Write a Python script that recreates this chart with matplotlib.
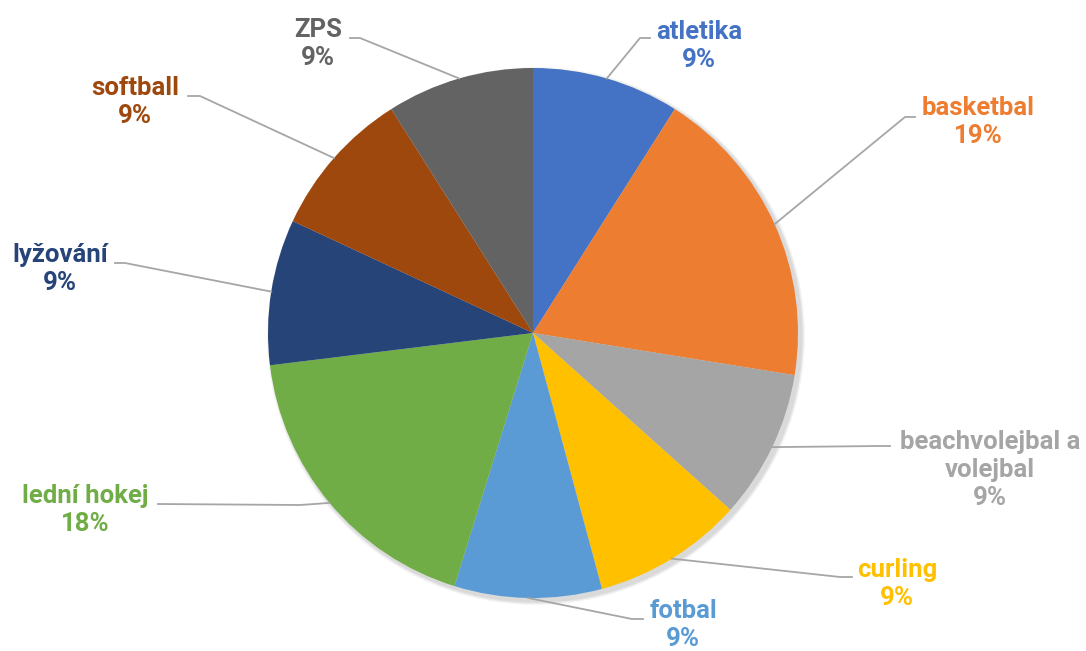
import numpy as np
import matplotlib
matplotlib.use('Agg')
import matplotlib.pyplot as plt
from matplotlib.patches import Circle

plt.rcParams['font.family'] = ['Roboto', 'DejaVu Sans']

# data (percent shares)
sports = ['atletika', 'basketbal', 'beachvolejbal a\nvolejbal', 'curling', 'fotbal',
          'lední hokej', 'lyžování', 'softball', 'ZPS']
shares = [9.0, 18.6, 9.1, 9.2, 9.0, 18.3, 8.9, 9.1, 9.0]
colors = ['#4472C4', '#ED7D31', '#A5A5A5', '#FFC000', '#5B9BD5',
          '#70AD47', '#264478', '#9E480E', '#636363']

# layout in pixels (from top-left): label centre, leader elbow, leader end
W, H = 1086, 651
cx, cy, r = 533, 333, 265
label_pos = [(699, 46), (978, 122), (990, 470), (897, 584), (683, 625),
             (85, 510), (60, 269), (135, 102), (318, 44)]
elbow = [(640, 38), (905, 117), (880, 446), (840, 577), (632, 619),
         (300, 505), (125, 263), (200, 96), (360, 38)]
line_end = [(650, 38), (915, 117), (890, 446), (852, 577), (643, 619),
            (158, 504), (115, 263), (188, 96), (350, 38)]

fig = plt.figure(figsize=(W / 100, H / 100), dpi=100)
ax = fig.add_axes([0, 0, 1, 1])

# soft shadow
for k, a in zip([10, 7, 4], [0.04, 0.05, 0.06]):
    ax.add_patch(Circle((cx + 3, H - cy - 3), r + k * 0.4, color='black',
                        alpha=a, lw=0, zorder=0))

wedges, _ = ax.pie(shares, colors=colors, startangle=90, counterclock=False,
                   center=(cx, H - cy), radius=r, frame=True,
                   wedgeprops=dict(linewidth=0))
ax.set_xlim(0, W)
ax.set_ylim(0, H)
ax.set_aspect('equal')
ax.axis('off')

for i, w in enumerate(wedges):
    mid = np.deg2rad((w.theta1 + w.theta2) / 2)
    sx = cx + r * np.cos(mid)
    sy = (H - cy) + r * np.sin(mid)
    ex, ey = elbow[i]
    tx, ty = line_end[i]
    ax.plot([sx, ex, tx], [sy, H - ey, H - ty], color='#A6A6A6', lw=1.3, zorder=3)
    lx, ly = label_pos[i]
    ax.text(lx, H - ly, f"{sports[i]}\n{round(shares[i])}%",
            ha='center', va='center', fontsize=18.5, fontweight='bold',
            color=colors[i], linespacing=1.2)

fig.savefig('out.png', dpi=100)
